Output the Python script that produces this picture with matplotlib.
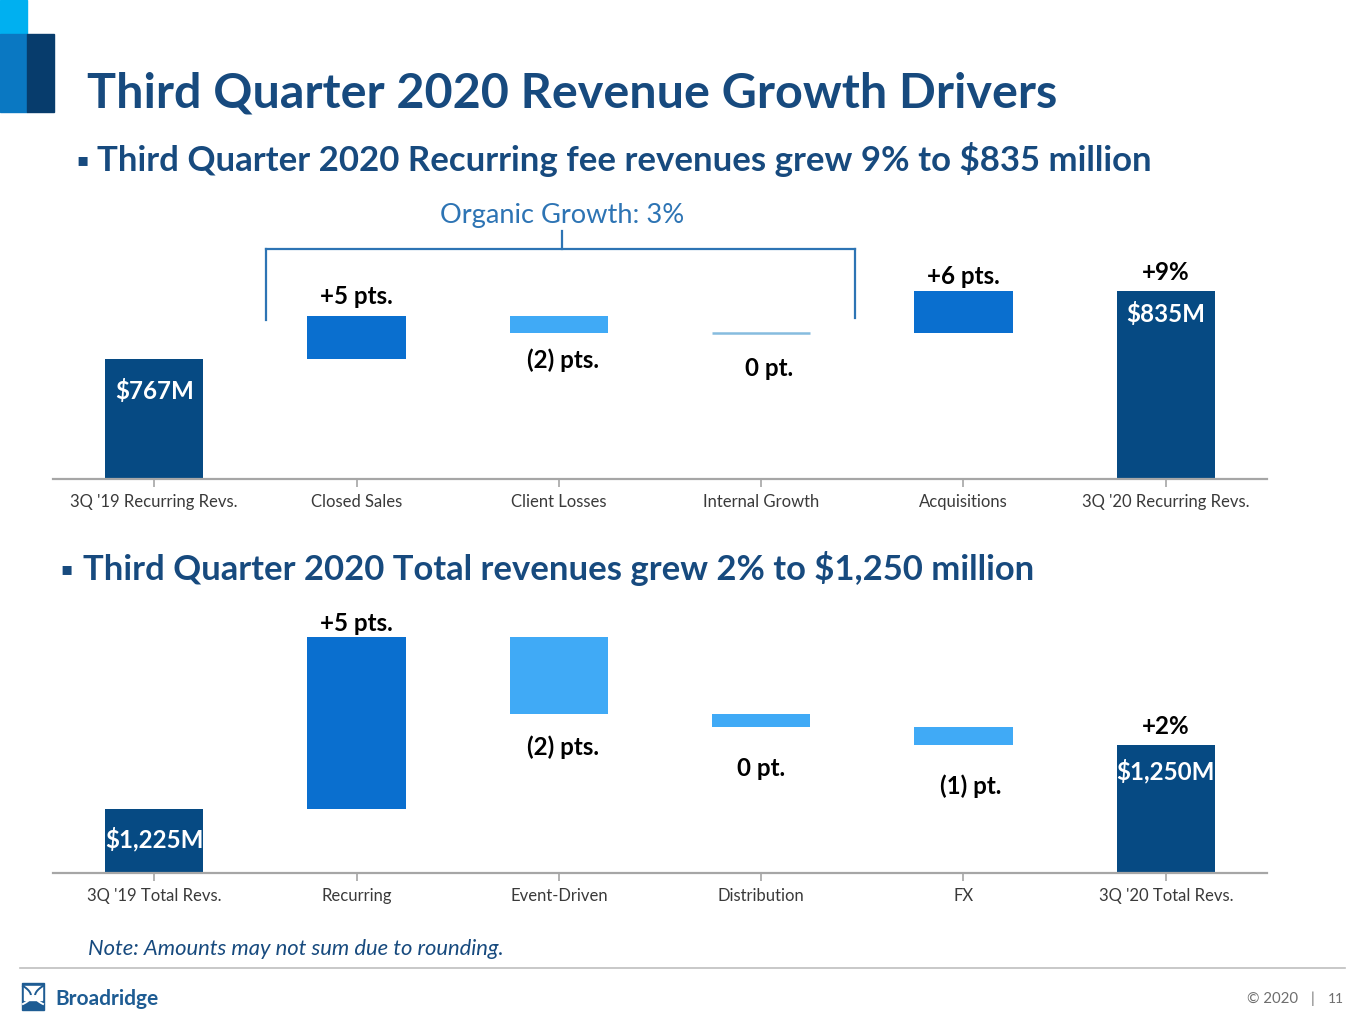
import matplotlib
matplotlib.use("Agg")
import matplotlib.pyplot as plt
from matplotlib.patches import Rectangle
from matplotlib.lines import Line2D
import numpy as np

# ---------------- data ----------------
top_categories = ["3Q '19 Recurring Revs.", "Closed Sales", "Client Losses",
                  "Internal Growth", "Acquisitions", "3Q '20 Recurring Revs."]
top_start = 767          # $M
top_deltas = [43, -17, 0, 42]   # $M
top_end = 835            # $M
top_labels = ["$767M", "+5 pts.", "(2) pts.", "0 pt.", "+6 pts.", "$835M"]
top_total_growth = "+9%"

bot_categories = ["3Q '19 Total Revs.", "Recurring", "Event-Driven",
                  "Distribution", "FX", "3Q '20 Total Revs."]
bot_start = 1225
bot_deltas = [67, -30, -5, -7]
bot_end = 1250
bot_labels = ["$1,225M", "+5 pts.", "(2) pts.", "0 pt.", "(1) pt.", "$1,250M"]
bot_total_growth = "+2%"

# ---------------- style ----------------
W, H = 1365, 1024
NAVY = "#064A83"
MID = "#0A6FCF"
LIGHT = "#40AAF6"
THIN = "#86BCDF"
TITLE_C = "#174A7E"
BRACKET_C = "#2D74B4"
AX_C = "#A6A6A6"
FONT = "Lato"

fig = plt.figure(figsize=(W / 100, H / 100), dpi=100)
fig.patch.set_facecolor("white")
renderer = fig.canvas.get_renderer()


def fx(px):
    return px / W


def fy(py):
    return 1 - py / H


def fit_text(x, y, s, width_px, **kw):
    t = fig.text(fx(x), fy(y), s, fontsize=20, **kw)
    bb = t.get_window_extent(renderer)
    t.set_fontsize(20 * width_px / bb.width)
    return t


# ---------------- header ----------------
fig.patches.append(Rectangle((fx(0), fy(34)), fx(27), 34 / H, color="#00B0F0",
                             transform=fig.transFigure, zorder=0))
fig.patches.append(Rectangle((fx(0), fy(112)), fx(27), 78 / H, color="#0A78C2",
                             transform=fig.transFigure, zorder=0))
fig.patches.append(Rectangle((fx(27), fy(112)), fx(27), 78 / H, color="#073C6C",
                             transform=fig.transFigure, zorder=0))

fit_text(87, 108, "Third Quarter 2020 Revenue Growth Drivers", 969,
         family=FONT, weight="bold", color=TITLE_C, ha="left", va="baseline")

fig.text(fx(82), fy(160), "\u25AA", family="DejaVu Sans", fontsize=13,
         color=TITLE_C, ha="center", va="center")
fit_text(97, 171, "Third Quarter 2020 Recurring fee revenues grew 9% to $835 million", 1056,
         family=FONT, weight="bold", color=TITLE_C, ha="left", va="baseline")

fig.text(fx(67), fy(569), "\u25AA", family="DejaVu Sans", fontsize=13,
         color=TITLE_C, ha="center", va="center")
fit_text(83, 580, "Third Quarter 2020 Total revenues grew 2% to $1,250 million", 952,
         family=FONT, weight="bold", color=TITLE_C, ha="left", va="baseline")

fit_text(440, 223, "Organic Growth: 3%", 244, family=FONT, color=BRACKET_C,
         ha="left", va="baseline")

# bracket
for (x0, y0, x1, y1) in [(266, 320, 266, 249), (266, 249, 855, 249),
                         (855, 249, 855, 318), (562, 231, 562, 249)]:
    fig.lines.append(Line2D([fx(x0), fx(x1)], [fy(y0), fy(y1)], color=BRACKET_C,
                            lw=1.6, transform=fig.transFigure))

# ---------------- label font sizes ----------------
tmp = fit_text(0, 0, "3Q '19 Recurring Revs.", 168, family=FONT)
TICK_FS = tmp.get_fontsize()
tmp.remove()
tmp = fit_text(0, 0, "+5 pts.", 73, family=FONT, weight="bold")
LAB_FS = tmp.get_fontsize()
tmp.remove()


def waterfall(ax, cats, start, deltas, end, colors, labels, growth, offsets, x_shift):
    n = len(cats)
    x = np.arange(n)
    ymin = ax.get_ylim()[0]
    bottoms = [ymin]
    cum = start
    for d in deltas:
        bottoms.append(cum if d >= 0 else cum + d)
        cum += d
    bottoms.append(ymin)
    hts = [start - ymin] + [abs(d) for d in deltas] + [end - ymin]
    for i in range(n):
        lw = 1.8 if hts[i] == 0 else 0
        ax.bar(x[i], hts[i], bottom=bottoms[i], width=0.485, color=colors[i],
               edgecolor=colors[i], linewidth=lw, zorder=2)
    for i in range(n):
        top = bottoms[i] + hts[i]
        bot = bottoms[i]
        off = offsets[i]
        if i == 0 or i == n - 1:
            ref = top
            col = "white"
        else:
            ref = top if deltas[i - 1] > 0 else bot
            col = "black"
        ax.annotate(labels[i], xy=(x[i], ref), xytext=(x_shift[i] * 0.72, -off * 0.72),
                    textcoords="offset points", ha="center", va="center",
                    fontsize=LAB_FS, weight="bold", color=col, family=FONT,
                    annotation_clip=False, zorder=3)
    ax.annotate(growth, xy=(x[-1], end), xytext=(0, 19 * 0.72), textcoords="offset points",
                ha="center", va="center", fontsize=LAB_FS, weight="bold",
                color="black", family=FONT, annotation_clip=False)
    ax.set_xlim(-0.5, n - 0.5)
    ax.set_xticks(x)
    ax.set_xticklabels(cats, family=FONT, fontsize=TICK_FS, color="#3A3A3A")
    for s in ["top", "right", "left"]:
        ax.spines[s].set_visible(False)
    ax.spines["bottom"].set_color(AX_C)
    ax.spines["bottom"].set_linewidth(1.6)
    ax.tick_params(axis="x", length=6, width=1.2, color=AX_C, pad=5)
    ax.set_yticks([])
    ax.patch.set_alpha(0)


# top chart
ax1 = fig.add_axes([fx(53), fy(479), 1214 / W, 229 / H])
ax1.set_ylim(647, 647 + 229)
waterfall(ax1, top_categories, top_start, top_deltas, top_end,
          [NAVY, MID, LIGHT, THIN, MID, NAVY], top_labels, top_total_growth,
          offsets=[32, -19, 27, 35, -14, 23], x_shift=[0, 0, 4, 8, 0, 0])

# bottom chart
ax2 = fig.add_axes([fx(53), fy(873), 1214 / W, 253 / H])
ax2.set_ylim(1200, 1200 + 253 / 2.56)
waterfall(ax2, bot_categories, bot_start, bot_deltas, bot_end,
          [NAVY, MID, LIGHT, LIGHT, LIGHT, NAVY], bot_labels, bot_total_growth,
          offsets=[30, -14, 33, 41, 41, 26], x_shift=[0, 0, 4, 0, 7, 0])

# ---------------- footer ----------------
fit_text(88, 955, "Note: Amounts may not sum due to rounding.", 417, family=FONT,
         style="italic", color=TITLE_C, ha="left", va="baseline")
fig.lines.append(Line2D([fx(20), fx(1345)], [fy(968), fy(968)], color="#BFBFBF",
                        lw=1.2, transform=fig.transFigure))

# logo icon
fig.patches.append(Rectangle((fx(22), fy(1010)), 22 / W, 27 / H, color="#1E5C93",
                             transform=fig.transFigure))
fig.patches.append(Rectangle((fx(24), fy(1000)), 18 / W, 14 / H, color="white",
                             transform=fig.transFigure))
tt = np.linspace(0, 1, 30)
for sgn in (-1, 1):
    fig.lines.append(Line2D(fx(33 + sgn * (2 + 8 * tt ** 2)), fy(996 - 10 * tt),
                            color="#1E5C93", lw=1.4, transform=fig.transFigure))
    fig.lines.append(Line2D(fx(33 + sgn * (2 + 8 * tt ** 2)), fy(996 + 8 * tt),
                            color="white", lw=1.4, transform=fig.transFigure))
fit_text(55, 1005, "Broadridge", 103, family=FONT, weight="bold", color="#1E5C93",
         ha="left", va="baseline")

fit_text(1247, 1003, "\u00A9 2020", 51, family=FONT, color="#6E6E6E", ha="left",
         va="baseline")
fig.text(fx(1313), fy(1003), "|", family=FONT, fontsize=11, color="#6E6E6E",
         ha="center", va="baseline")
fit_text(1328, 1003, "11", 16, family=FONT, color="#6E6E6E", ha="left", va="baseline")

fig.savefig("out.png", dpi=100, facecolor="white")
